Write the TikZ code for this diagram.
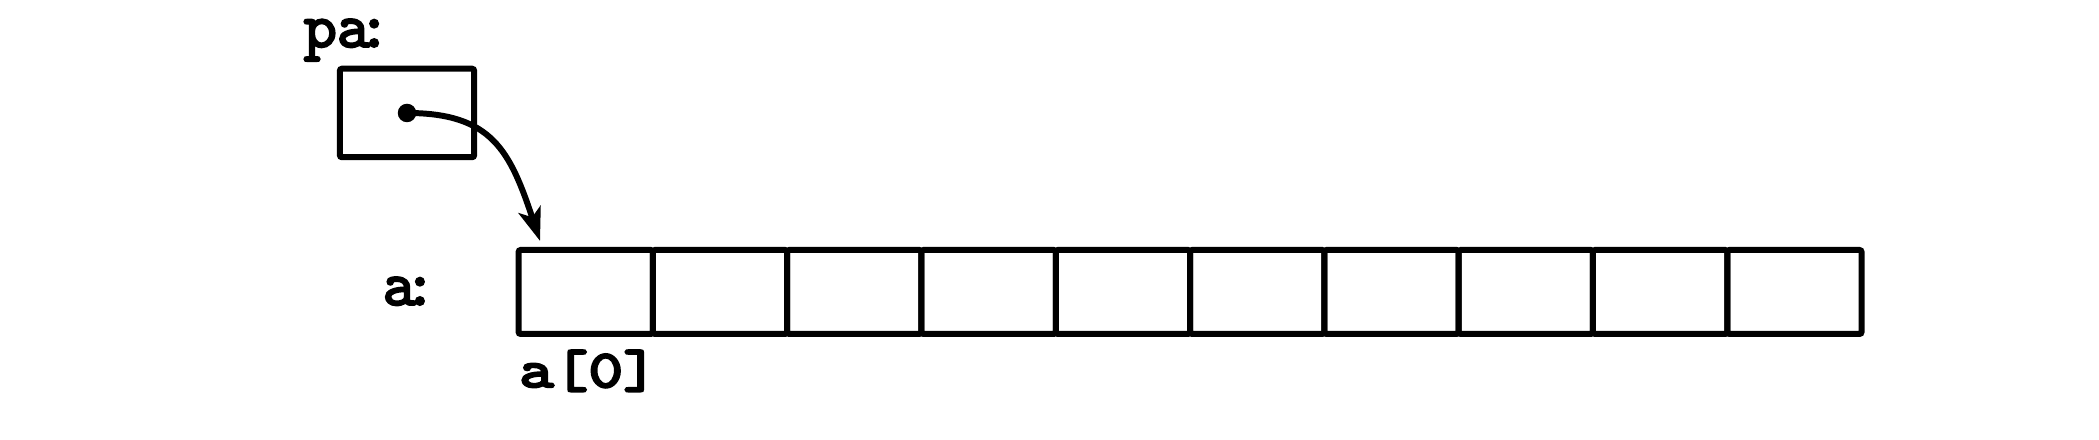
\documentclass[tikz,border=0pt]{standalone}
\usepackage{fontspec}
\setmonofont{lmmono10-regular.otf}[AutoFakeBold=3.2]
\newfontfamily\idxfont{lmmono10-regular.otf}[FakeBold=4.5, FakeStretch=1.25]
\usetikzlibrary{positioning, arrows.meta}

\begin{document}
\begin{tikzpicture}[
    cell/.style={rectangle, draw, line width=1.7pt, rounded corners=0.6pt, minimum width=1.343cm, minimum height=0.84cm, inner sep=0pt, outer sep=0pt},
    lbl/.style={font=\fontsize{18}{20}\selectfont\ttfamily\bfseries, inner sep=0pt},
    idx/.style={font=\fontsize{15}{17}\selectfont\idxfont, inner sep=0pt},
    dot/.style={circle, fill, minimum size=1.85mm, inner sep=0pt},
    arrow/.style={-{Stealth[length=3.3mm, width=2.3mm, inset=0.8mm]}, line width=1.7pt},
]
\useasboundingbox (0,0) rectangle (20.99,4.40);

% Pointer variable
\node[cell, minimum height=0.885cm] (pa) at (4.07,3.27) {};
\node[lbl, anchor=base west] (palbl) at (3.03,3.93) {pa\kern-.2em:};
\node[dot] (ptr) at (pa.center) {};

% Array
\node[cell] (c0) at (5.857,1.48) {};
\foreach \i [evaluate=\i as \j using int(\i-1)] in {1,...,9}
    \node[cell, right=0pt of c\j] (c\i) {};
\node[lbl, anchor=base west] (alabel) at (3.82,1.35) {a\kern-.2em:};
\node[idx, anchor=base west] (a0) at ([xshift=0mm, yshift=-5.3mm]c0.south west) {a[0]};

% Arrow
\coordinate (tip) at ([xshift=2.15mm, yshift=0.9mm]c0.north west);
\draw[arrow] (ptr.center) .. controls +(0.85,0) and +(-0.3,0.9) .. (tip);

\end{tikzpicture}
\end{document}
